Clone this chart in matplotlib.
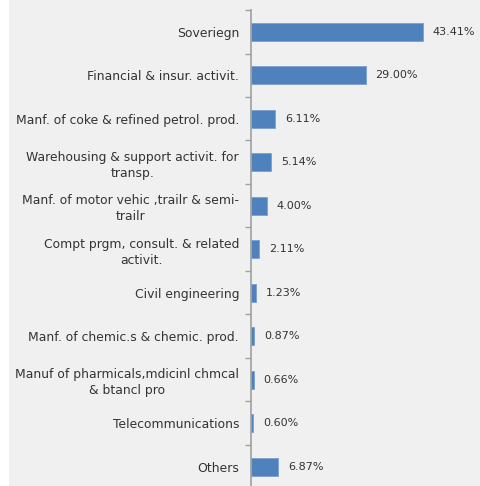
import matplotlib
matplotlib.use("Agg")
import matplotlib.pyplot as plt
import numpy as np
from matplotlib.patches import Rectangle

sectors = [
    "Soveriegn",
    "Financial & insur. activit.",
    "Manf. of coke & refined petrol. prod.",
    "Warehousing & support activit. for\ntransp.",
    "Manf. of motor vehic ,trailr & semi-\ntrailr",
    "Compt prgm, consult. & related\nactivit.",
    "Civil engineering",
    "Manf. of chemic.s & chemic. prod.",
    "Manuf of pharmicals,mdicinl chmcal\n& btancl pro",
    "Telecommunications",
    "Others",
]
shares = [43.41, 29.00, 6.11, 5.14, 4.00, 2.11, 1.23, 0.87, 0.66, 0.60, 6.87]

bg = "#F0F0F0"
txt = "#333333"

fig = plt.figure(figsize=(4.81, 4.86), dpi=100, facecolor=bg)
fig.patches.append(Rectangle((0, 0), 9 / 481, 1, transform=fig.transFigure,
                             facecolor="white", edgecolor="none", zorder=0))

ax = fig.add_axes([251 / 481, -0.005, 230 / 481, 0.9794 + 0.005])
ax.set_facecolor(bg)

y = np.arange(len(sectors))
ax.barh(y, shares, height=0.42, color="#4F81BD", edgecolor="#7BA0D0", linewidth=0.6)

for yi, v in zip(y, shares):
    ax.annotate(f"{v:.2f}%", (v, yi), xytext=(7, 0), textcoords="offset points",
                ha="left", va="center", fontsize=8, color=txt)

ax.set_xlim(0, 230 / 3.96)
ax.set_ylim(len(sectors) - 0.5, -0.5)

ax.set_yticks(y)
ax.set_yticklabels(sectors, fontsize=8.9, color=txt, multialignment="center",
                   linespacing=1.3)
ax.tick_params(axis="y", which="major", length=0, pad=8.6)
ax.set_yticks(np.arange(len(sectors) + 1) - 0.5, minor=True)
ax.tick_params(axis="y", which="minor", length=4, width=1, color="#A0A0A0", direction="out")
ax.set_xticks([])

for s in ["top", "right", "bottom"]:
    ax.spines[s].set_visible(False)
ax.spines["left"].set_color("#A0A0A0")
ax.spines["left"].set_linewidth(1.2)

fig.savefig("out.png", dpi=100, facecolor=bg)
